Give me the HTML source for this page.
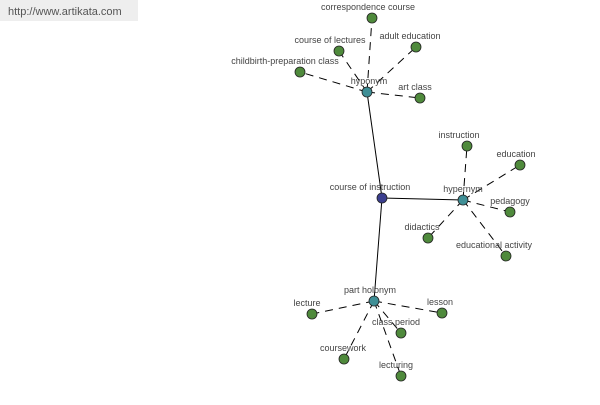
<!DOCTYPE html>
<html><head><style>
body{margin:0;background:#fff;width:600px;height:400px;overflow:hidden}
text{font-family:"Liberation Sans",sans-serif;font-size:9px;fill:#444}
</style></head><body>
<svg width="600" height="400" xmlns="http://www.w3.org/2000/svg">
<rect x="0" y="0" width="138" height="21" fill="#eeeeee"/>
<text x="8" y="15" style="font-size:11px;fill:#555">http://www.artikata.com</text>
<g stroke="#000" stroke-width="1">
<line x1="382" y1="198" x2="367" y2="92"/>
<line x1="382" y1="198" x2="463" y2="200"/>
<line x1="382" y1="198" x2="374" y2="301"/>
</g>
<g stroke="#000" stroke-width="1" stroke-dasharray="8,6">
<line x1="367" y1="92" x2="372" y2="18"/>
<line x1="367" y1="92" x2="339" y2="51"/>
<line x1="367" y1="92" x2="416" y2="47"/>
<line x1="367" y1="92" x2="300" y2="72"/>
<line x1="367" y1="92" x2="420" y2="98"/>
<line x1="463" y1="200" x2="467" y2="146"/>
<line x1="463" y1="200" x2="520" y2="165"/>
<line x1="463" y1="200" x2="510" y2="212"/>
<line x1="463" y1="200" x2="428" y2="238"/>
<line x1="463" y1="200" x2="506" y2="256"/>
<line x1="374" y1="301" x2="312" y2="314"/>
<line x1="374" y1="301" x2="442" y2="313"/>
<line x1="374" y1="301" x2="401" y2="333"/>
<line x1="374" y1="301" x2="344" y2="359"/>
<line x1="374" y1="301" x2="401" y2="376"/>
</g>
<g stroke="#222" stroke-width="0.8" fill="#4f8a3c">
<circle cx="372" cy="18" r="5"/><circle cx="339" cy="51" r="5"/><circle cx="416" cy="47" r="5"/>
<circle cx="300" cy="72" r="5"/><circle cx="420" cy="98" r="5"/>
<circle cx="467" cy="146" r="5"/><circle cx="520" cy="165" r="5"/><circle cx="510" cy="212" r="5"/>
<circle cx="428" cy="238" r="5"/><circle cx="506" cy="256" r="5"/>
<circle cx="312" cy="314" r="5"/><circle cx="442" cy="313" r="5"/><circle cx="401" cy="333" r="5"/>
<circle cx="344" cy="359" r="5"/><circle cx="401" cy="376" r="5"/>
</g>
<g stroke="#222" stroke-width="0.8" fill="#3f8f96">
<circle cx="367" cy="92" r="5"/><circle cx="463" cy="200" r="5"/><circle cx="374" cy="301" r="5"/>
</g>
<circle cx="382" cy="198" r="5" fill="#3b3f8f" stroke="#222" stroke-width="0.8"/>
<g text-anchor="middle">
<text x="368" y="10">correspondence course</text>
<text x="330" y="43">course of lectures</text>
<text x="410" y="39">adult education</text>
<text x="285" y="64">childbirth-preparation class</text>
<text x="369" y="84">hyponym</text>
<text x="415" y="90">art class</text>
<text x="459" y="138">instruction</text>
<text x="516" y="157">education</text>
<text x="510" y="204">pedagogy</text>
<text x="422" y="230">didactics</text>
<text x="494" y="248">educational activity</text>
<text x="370" y="190">course of instruction</text>
<text x="463" y="192">hypernym</text>
<text x="370" y="293">part holonym</text>
<text x="307" y="306">lecture</text>
<text x="440" y="305">lesson</text>
<text x="396" y="325">class period</text>
<text x="343" y="351">coursework</text>
<text x="396" y="368">lecturing</text>
</g>
</svg>
</body></html>
